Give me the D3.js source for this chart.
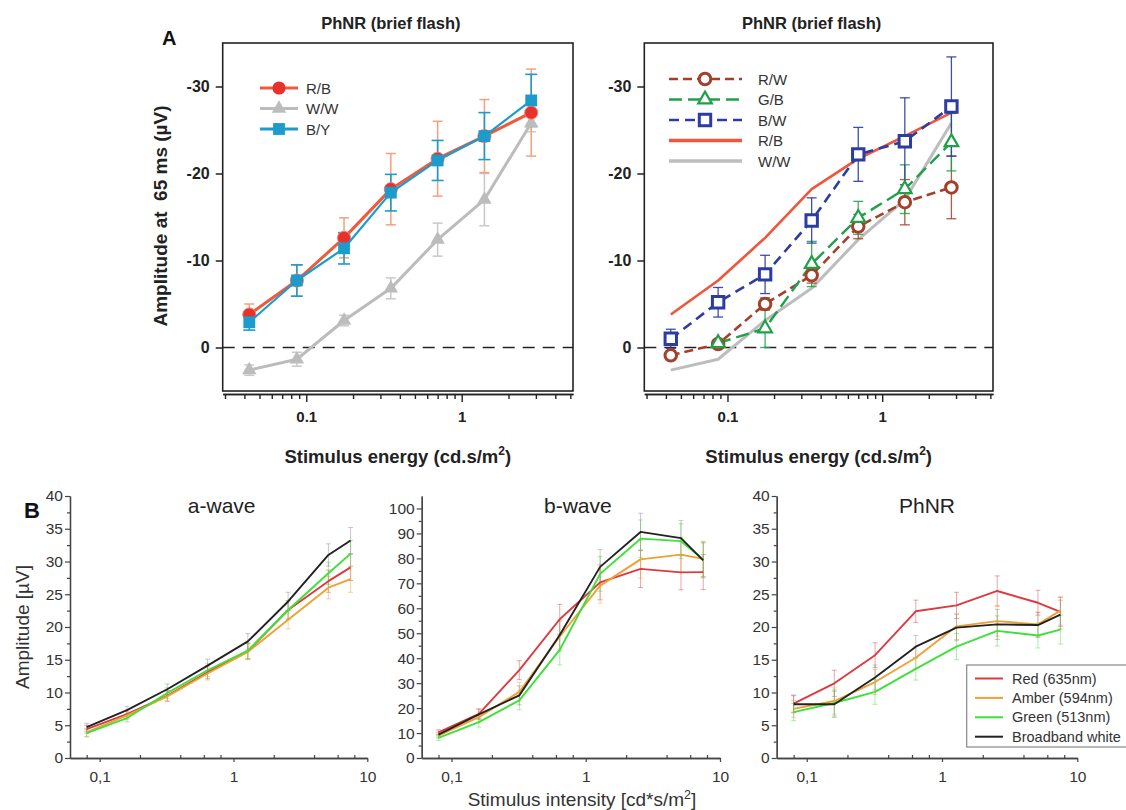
<!DOCTYPE html>
<html><head><meta charset="utf-8">
<script src="https://cdn.jsdelivr.net/npm/d3@7"></script>
<style>body{margin:0;background:#fff} svg{display:block}</style>
</head><body>
<svg id="c" width="1126" height="810"></svg>
<script>
// ---------- Panel A data (stimulus energy, cd.s/m^2) ----------
const energyA = [0.043, 0.087, 0.175, 0.35, 0.7, 1.4, 2.8];
const RB    = [-3.8, -7.7, -12.6, -18.2, -21.7, -24.3, -27.0];
const RBerr = [1.2, 1.8, 2.3, 4.1, 4.3, 4.2, 5.0];
const WW    = [2.6, 1.35, -3.1, -6.8, -12.4, -17.0, -25.8];
const WWerr = [0.6, 0.8, 0.6, 1.2, 1.9, 3.0, 1.0];
const BY    = [-2.9, -7.7, -11.4, -17.8, -21.5, -24.3, -28.4];
const BYerr = [0.9, 1.8, 1.8, 2.1, 2.3, 2.7, 3.0];
const RW    = [0.9, -0.4, -5.0, -8.3, -13.9, -16.7, -18.4];
const RWerr = [0.3, 0.3, 0.7, 0.9, 1.4, 2.6, 3.6];
const GB    = [null, -0.5, -2.2, -9.6, -14.9, -18.2, -23.6];
const GBerr = [0, 0.4, 2.2, 2.6, 1.9, 2.8, 3.3];
const BW    = [-1.0, -5.2, -8.4, -14.6, -22.2, -23.7, -27.7];
const BWerr = [1.1, 1.7, 2.2, 2.6, 3.1, 5.0, 5.7];
const yTicksA = [-30, -20, -10, 0];
const xLabelsA = [0.1, 1];

// ---------- Panel B data (stimulus intensity, cd*s/m^2) ----------
const intensityB = [0.08, 0.16, 0.32, 0.64, 1.28, 2.56, 5.12, 7.5];
const seriesNamesB = ["Red (635nm)", "Amber (594nm)", "Green (513nm)", "Broadband white"];
const aRed   = [4.4, 6.7, 9.5, 13.1, 16.3, 22.6, 27.0, 29.1];
const aAmber = [3.9, 6.5, 9.4, 12.9, 16.2, 21.1, 26.0, 27.3];
const aGreen = [3.8, 6.1, 9.9, 13.4, 16.4, 22.6, 28.2, 31.2];
const aWhite = [4.7, 7.3, 10.5, 14.1, 17.8, 23.9, 31.0, 33.2];
const aErr   = [0.6, 0.6, 0.8, 1.0, 1.2, 1.4, 1.7, 2.0];
const bRed   = [10.3, 17.7, 35.2, 55.6, 70.4, 75.8, 74.4, 74.5];
const bAmber = [9.0, 16.4, 26.5, 48.7, 69.1, 79.6, 81.5, 79.8];
const bGreen = [8.1, 14.4, 23.1, 43.3, 73.8, 87.9, 86.9, 79.6];
const bWhite = [9.4, 17.5, 25.1, 49.3, 76.6, 90.6, 88.1, 79.2];
const bErr   = [1.0, 2.0, 3.8, 6.0, 7.0, 7.5, 7.0, 7.0];
const pRed   = [8.3, 11.4, 15.7, 22.4, 23.3, 25.5, 23.7, 22.3];
const pAmber = [7.5, 8.7, 11.6, 15.3, 20.1, 20.9, 20.4, 22.5];
const pGreen = [7.0, 8.4, 10.1, 13.6, 17.0, 19.4, 18.7, 19.6];
const pWhite = [8.2, 8.2, 12.3, 17.0, 19.9, 20.4, 20.3, 21.9];
const pErr   = [1.3, 2.0, 1.9, 1.7, 2.0, 2.3, 1.9, 2.2];
const xLabelsB = [0.1, 1, 10];

const svg = d3.select("#c");
const FA = "'Liberation Sans', Arial, Helvetica, sans-serif";

// ================= PANEL A =================
const yA = d3.scaleLinear().domain([5, -35]).range([391, 43]);
function logMinor(lo, hi){
  const out=[]; for(let e=-2;e<=1;e++) for(let m=1;m<10;m++){const v=m*Math.pow(10,e); if(v>=lo&&v<=hi) out.push(v);} return out;
}
function panelA(x0, x1, title){
  const x = d3.scaleLog().domain([0.029, 5.2]).range([x0, x1]);
  const g = svg.append("g");
  g.append("rect").attr("x", x0).attr("y", 43).attr("width", x1-x0).attr("height", 348)
    .attr("fill","none").attr("stroke","#222").attr("stroke-width",1.6);
  const minors = logMinor(0.029, 5.2).filter(v => !xLabelsA.includes(v));
  const ax1 = g.append("g").attr("transform","translate(0,394)")
    .call(d3.axisBottom(x).tickValues(minors).tickSize(5).tickSizeOuter(0).tickFormat(""));
  const ax2 = g.append("g").attr("transform","translate(0,394)")
    .call(d3.axisBottom(x).tickValues(xLabelsA).tickSize(8).tickSizeOuter(0).tickFormat(d3.format("")));
  [ax1, ax2].forEach(a => { a.select(".domain").attr("stroke","#222").attr("stroke-width",1.6);
    a.selectAll("line").attr("stroke","#222").attr("stroke-width",1.4); });
  ax2.selectAll("text").attr("dy","1.15em").attr("font-family",FA).attr("font-weight","bold").attr("font-size",15).attr("fill","#222");
  const ay = g.append("g").attr("transform",`translate(${x0},0)`)
    .call(d3.axisLeft(yA).tickValues(yTicksA).tickSize(7).tickSizeOuter(0).tickFormat(d => String(d)));
  ay.select(".domain").remove();
  ay.selectAll("line").attr("stroke","#222").attr("stroke-width",1.5);
  ay.selectAll("text").attr("x",-13).attr("font-family",FA).attr("font-weight","bold").attr("font-size",16).attr("fill","#222");
  g.append("line").attr("x1",x0).attr("x2",x1).attr("y1",yA(0)).attr("y2",yA(0))
    .attr("stroke","#222").attr("stroke-width",1.6).attr("stroke-dasharray","12,8");
  g.append("text").attr("x",(x0+x1)/2-7).attr("y",29).attr("text-anchor","middle")
    .attr("font-family",FA).attr("font-weight","bold").attr("font-size",16.5).attr("fill","#222").text(title);
  const t = g.append("text").attr("x",(x0+x1)/2).attr("y",463).attr("text-anchor","middle")
    .attr("font-family",FA).attr("font-weight","bold").attr("font-size",18.5).attr("fill","#222");
  t.append("tspan").text("Stimulus energy (cd.s/m");
  t.append("tspan").attr("dy",-8).attr("font-size",12).text("2");
  t.append("tspan").attr("dy",8).text(")");
  return {g, x};
}

function errBars(g, x, y, xs, ys, es, color, w, cap, op){
  xs.forEach((xv,i)=>{
    if(ys[i]==null || !es[i]) return;
    const cx=x(xv), a=y(ys[i]-es[i]), b=y(ys[i]+es[i]);
    g.append("line").attr("x1",cx).attr("x2",cx).attr("y1",a).attr("y2",b).attr("stroke",color).attr("stroke-width",w).attr("opacity",op);
    [a,b].forEach(yy=>g.append("line").attr("x1",cx-cap).attr("x2",cx+cap).attr("y1",yy).attr("y2",yy).attr("stroke",color).attr("stroke-width",w).attr("opacity",op));
  });
}
function lineOf(g, x, y, xs, ys, color, w, dash){
  const pts = xs.map((v,i)=>[v,ys[i]]).filter(p=>p[1]!=null);
  g.append("path").datum(pts).attr("fill","none").attr("stroke",color).attr("stroke-width",w)
    .attr("stroke-linejoin","round").attr("stroke-dasharray",dash||null)
    .attr("d", d3.line().x(p=>x(p[0])).y(p=>y(p[1])));
}
function markers(g, x, y, xs, ys, type, size, fill, stroke, sw){
  xs.forEach((v,i)=>{
    if(ys[i]==null) return;
    g.append("path").attr("transform",`translate(${x(v)},${y(ys[i])})`)
      .attr("d", d3.symbol(type, size)()).attr("fill",fill).attr("stroke",stroke).attr("stroke-width",sw);
  });
}

// ---- Left A ----
const L = panelA(222.7, 573, "PhNR (brief flash)");
{
  const {g,x} = L;
  const cRB="#ef5a3c", cWW="#bcbcbc", cBY="#1c9ccd";
  errBars(g,x,yA,energyA,WW,WWerr,"#c9c9c9",1.5,5,1);
  errBars(g,x,yA,energyA,RB,RBerr,"#f4a07f",1.5,5,1);
  errBars(g,x,yA,energyA,BY,BYerr,cBY,1.6,6,1);
  lineOf(g,x,yA,energyA,WW,cWW,3);
  markers(g,x,yA,energyA,WW,d3.symbolTriangle,90,cWW,"none",0);
  lineOf(g,x,yA,energyA,RB,cRB,3);
  markers(g,x,yA,energyA,RB,d3.symbolCircle,135,"#e8312a","#f08070",1);
  lineOf(g,x,yA,energyA,BY,cBY,2.2);
  markers(g,x,yA,energyA,BY,d3.symbolSquare,140,cBY,"none",0);
  const leg = [["R/B",cRB,d3.symbolCircle,"#e8312a",135],["W/W",cWW,d3.symbolTriangle,cWW,90],["B/Y",cBY,d3.symbolSquare,cBY,140]];
  leg.forEach((d,i)=>{
    const yy = 88 + i*20.5;
    g.append("line").attr("x1",260).attr("x2",298).attr("y1",yy).attr("y2",yy).attr("stroke",d[1]).attr("stroke-width",3);
    g.append("path").attr("transform",`translate(279,${yy})`).attr("d",d3.symbol(d[2],d[4])()).attr("fill",d[3]);
    g.append("text").attr("x",306).attr("y",yy+5.5).attr("font-family",FA).attr("font-size",15).attr("fill","#333").text(d[0]);
  });
}
// ---- Right A ----
const R = panelA(644.3, 993, "PhNR (brief flash)");
{
  const {g,x} = R;
  const cRW="#a2402a", cGB="#1fa049", cBW="#2b3da3", cRB="#f2553a", cWW="#bdbdbd";
  lineOf(g,x,yA,energyA,WW,cWW,3);
  lineOf(g,x,yA,energyA,RB,cRB,2.6);
  errBars(g,x,yA,energyA,RW,RWerr,cRW,1.3,5,0.85);
  errBars(g,x,yA,energyA,GB,GBerr,cGB,1.3,5,0.85);
  errBars(g,x,yA,energyA,BW,BWerr,cBW,1.3,5,0.9);
  lineOf(g,x,yA,energyA,RW,cRW,2.6,"9,5");
  lineOf(g,x,yA,energyA,GB,cGB,2.4,"13,6");
  lineOf(g,x,yA,energyA,BW,cBW,2.6,"10,6");
  markers(g,x,yA,energyA,RW,d3.symbolCircle,105,"#fff",cRW,3);
  markers(g,x,yA,energyA,GB,d3.symbolTriangle,80,"#fff",cGB,2.2);
  markers(g,x,yA,energyA,BW,d3.symbolSquare,130,"#fff",cBW,3);
  const leg = [["R/W",cRW,"9,5",d3.symbolCircle,105,3],["G/B",cGB,"13,6",d3.symbolTriangle,80,2.2],["B/W",cBW,"10,6",d3.symbolSquare,130,3],["R/B",cRB,null,null],["W/W",cWW,null,null]];
  leg.forEach((d,i)=>{
    const yy = 79 + i*20.5;
    g.append("line").attr("x1",669).attr("x2",742).attr("y1",yy).attr("y2",yy).attr("stroke",d[1])
      .attr("stroke-width", d[2]?2.6:3.5).attr("stroke-dasharray",d[2]);
    if(d[3]) g.append("path").attr("transform",`translate(705,${yy})`).attr("d",d3.symbol(d[3],d[4])()).attr("fill","#fff").attr("stroke",d[1]).attr("stroke-width",d[5]);
    g.append("text").attr("x",758).attr("y",yy+5.5).attr("font-family",FA).attr("font-size",15).attr("fill","#333").text(d[0]);
  });
}
svg.append("text").attr("x",162).attr("y",45).attr("font-family",FA).attr("font-weight","bold").attr("font-size",20).attr("fill","#111").text("A");
svg.append("text").attr("transform","translate(167,216) rotate(-90)").attr("text-anchor","middle")
  .style("white-space","pre")
  .attr("font-family",FA).attr("font-weight","bold").attr("font-size",19).attr("fill","#222").text("Amplitude at\u00A0 65 ms (\u00B5V)");

// ================= PANEL B =================
const colB = ["#dc3a3f", "#f0a033", "#3ee03a", "#222222"];
function panelB(x0, x1, ymax, step, title, data, err, tdx){
  const x = d3.scaleLog().domain([0.06, 10]).range([x0, x1]);
  const y = d3.scaleLinear().domain([0, ymax]).range([758, 758 - 262*ymax/(ymax===105?105:40)]);
  const g = svg.append("g");
  const majors = d3.range(0, (ymax===105?100:40)+0.01, step);
  const minorsY = d3.range(step/2, ymax, step).filter(v => v < ymax);
  const ayM = g.append("g").attr("transform",`translate(${x0},0)`)
    .call(d3.axisLeft(y).tickValues(minorsY).tickSize(3).tickSizeOuter(0).tickFormat(""));
  const ay = g.append("g").attr("transform",`translate(${x0},0)`)
    .call(d3.axisLeft(y).tickValues(majors).tickSize(5).tickSizeOuter(0).tickFormat(d3.format("d")));
  const minorsX = [0.08,0.2,0.4,0.6,0.8,2,4,6,8];
  const axM = g.append("g").attr("transform","translate(0,758)")
    .call(d3.axisBottom(x).tickValues(minorsX).tickSize(-3).tickSizeOuter(0).tickFormat(""));
  const ax = g.append("g").attr("transform","translate(0,758)")
    .call(d3.axisBottom(x).tickValues(xLabelsB).tickSize(4).tickSizeOuter(0).tickFormat(d => d===0.1 ? "0,1" : String(d)));
  [ayM,ay,axM,ax].forEach(a=>{ a.select(".domain").attr("stroke","#444").attr("stroke-width",1.3);
    a.selectAll("line").attr("stroke","#444").attr("stroke-width",1.2); });
  ay.selectAll("text").attr("x",-7).attr("font-family",FA).attr("font-size",15.5).attr("fill","#333");
  ax.selectAll("text").attr("dy","1.1em").attr("font-family",FA).attr("font-size",15.5).attr("fill","#333");
  g.append("text").attr("x",(x0+x1)/2+tdx).attr("y",513).attr("text-anchor","middle")
    .attr("font-family",FA).attr("font-size",21).attr("fill","#222").text(title);
  data.forEach((s,k)=> errBars(g,x,y,intensityB,s,err,colB[k]==="#222222"?"#888":colB[k],1,2.5,0.45));
  data.forEach((s,k)=> lineOf(g,x,y,intensityB,s,colB[k],1.9));
  return g;
}
panelB(70, 367.3, 40, 5, "a-wave", [aRed,aAmber,aGreen,aWhite], aErr, 3);
panelB(421.7, 720, 105, 10, "b-wave", [bRed,bAmber,bGreen,bWhite], bErr, 7);
const gp = panelB(776.7, 1077.3, 40, 5, "PhNR", [pRed,pAmber,pGreen,pWhite], pErr, 0);
gp.append("rect").attr("x",966.7).attr("y",665).attr("width",170).attr("height",82).attr("fill","#fff").attr("stroke","#888").attr("stroke-width",1.2);
seriesNamesB.forEach((n,i)=>{
  const yy = 678.5 + i*19.4;
  gp.append("line").attr("x1",975).attr("x2",1003).attr("y1",yy).attr("y2",yy).attr("stroke",colB[i]).attr("stroke-width",2);
  gp.append("text").attr("x",1012).attr("y",yy+5).attr("font-family",FA).attr("font-size",14.5).attr("fill","#333").text(n);
});
svg.append("text").attr("x",24).attr("y",518).attr("font-family",FA).attr("font-weight","bold").attr("font-size",22).attr("fill","#111").text("B");
svg.append("text").attr("transform","translate(29,627) rotate(-90)").attr("text-anchor","middle")
  .attr("font-family",FA).attr("font-size",19).attr("fill","#333").text("Amplitude [\u00B5V]");
{
  const t = svg.append("text").attr("x",582).attr("y",806).attr("text-anchor","middle")
    .attr("font-family",FA).attr("font-size",19).attr("fill","#333");
  t.append("tspan").text("Stimulus intensity [cd*s/m");
  t.append("tspan").attr("dy",-7).attr("font-size",12.5).text("2");
  t.append("tspan").attr("dy",7).text("]");
}
</script>
</body></html>
